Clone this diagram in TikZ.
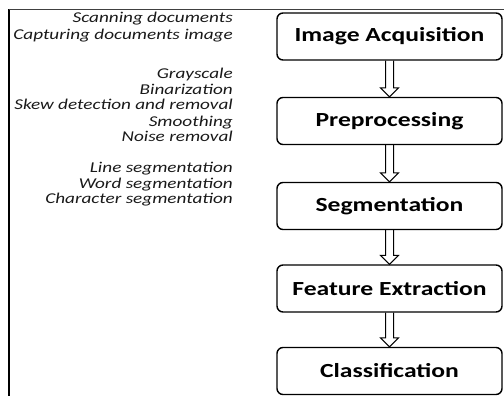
\documentclass[tikz,border=0pt]{standalone}
\usepackage{fontspec}
\setmainfont{Carlito}
\newfontfamily\widefont[FakeStretch=1.28]{Carlito}
\usetikzlibrary{calc}
\newcommand\hollowarrow[2]{%
  \draw[line width=1pt] let \p1=(#1.south), \p2=(#2.north) in
    (\x1-4pt,\y1) -- (\x1-4pt,\y2+9pt) -- (\x1-9pt,\y2+9pt) -- (\x1,\y2)
    -- (\x1+9pt,\y2+9pt) -- (\x1+4pt,\y2+9pt) -- (\x1+4pt,\y1);}
\begin{document}
\begin{tikzpicture}[x=1pt,y=-1pt,
  stage/.style={draw, line width=1.4pt, rounded corners=6pt, minimum width=225pt,
    minimum height=47pt, inner sep=0pt, font=\widefont\bfseries\fontsize{20}{24}\selectfont},
  note/.style={anchor=base east, inner sep=0pt, text=black!90,
    font=\widefont\itshape\fontsize{15}{18}\selectfont}]
\useasboundingbox (0,0) rectangle (504,396);
% frame
\draw[line width=1.6pt] (9,9) -- (9,396);
\draw[line width=0.9pt, black!75] (9,9) -- (504,9);
% stages
\node[stage] (acq) at (389.5,36.5) {Image Acquisition};
\node[stage] (pre) at (389.5,121) {Preprocessing};
\node[stage] (seg) at (389.5,206) {Segmentation};
\node[stage] (fea) at (389.5,288.5) {Feature Extraction};
\node[stage] (cls) at (389.5,371) {Classification};
% arrows
\hollowarrow{acq}{pre}
\hollowarrow{pre}{seg}
\hollowarrow{seg}{fea}
\hollowarrow{fea}{cls}
% notes
\node[note] (n1) at (233,23) {Scanning documents};
\node[note] (n2) at (233,40) {Capturing documents image};
\node[note] (n3) at (233,79) {Grayscale};
\node[note] (n4) at (233,95) {Binarization};
\node[note] (n5) at (233,110) {Skew detection and removal};
\node[note] (n6) at (233,126) {Smoothing};
\node[note] (n7) at (233,142) {Noise removal};
\node[note] (n8) at (233,172) {Line segmentation};
\node[note] (n9) at (233,188) {Word segmentation};
\node[note] (n10) at (233,204) {Character segmentation};
\end{tikzpicture}
\end{document}
